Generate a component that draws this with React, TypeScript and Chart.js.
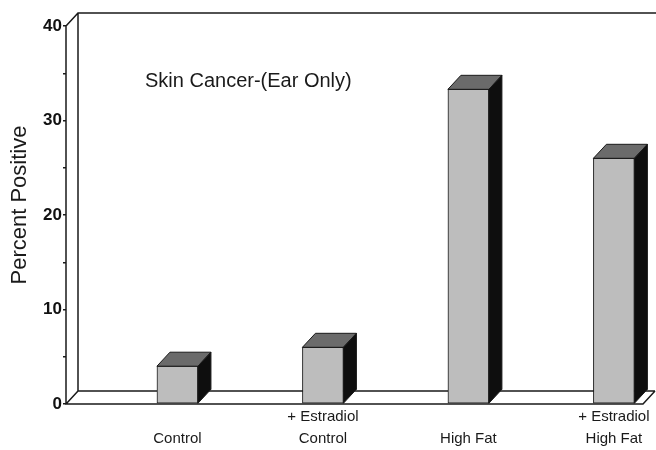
import React, { useEffect, useRef } from 'react';
import { Chart, registerables } from 'chart.js';

Chart.register(...registerables);

// ---- data ----
const categories = ['Control', '+ Estradiol Control', 'High Fat', '+ Estradiol High Fat'];
const tickLabelLines = [
  ['', 'Control'],
  ['+ Estradiol', 'Control'],
  ['', 'High Fat'],
  ['+ Estradiol', 'High Fat'],
];
const percentPositive = [4, 6, 33.3, 26];
const yMin = 0;
const yMax = 40;
const yStep = 5;
const yLabelStep = 10;
const chartTitle = 'Skin Cancer-(Ear Only)';
const yTitle = 'Percent Positive';

const FONT = '"Liberation Sans", Arial, sans-serif';
const FRAME_DX = 12;
const FRAME_DY = -13;
const BAR_DX = 13;
const BAR_DY = -14;

const frame3d = {
  id: 'frame3d',
  beforeDatasetsDraw(chart: any) {
    const { ctx } = chart;
    const x = chart.scales.x;
    const y = chart.scales.y;
    const l = x.left;
    const r = x.right;
    const b = y.getPixelForValue(yMin);
    const t = y.getPixelForValue(yMax);
    ctx.save();
    ctx.strokeStyle = '#1a1a1a';
    ctx.lineWidth = 1.5;
    ctx.beginPath();
    // front axis + front floor edge
    ctx.moveTo(l, t);
    ctx.lineTo(l, b);
    ctx.lineTo(r, b);
    ctx.lineTo(r + FRAME_DX, b + FRAME_DY);
    // top diagonal + back top edge
    ctx.moveTo(l, t);
    ctx.lineTo(l + FRAME_DX, t + FRAME_DY);
    ctx.lineTo(chart.width, t + FRAME_DY);
    // back wall left edge + back floor edge
    ctx.moveTo(l + FRAME_DX, t + FRAME_DY);
    ctx.lineTo(l + FRAME_DX, b + FRAME_DY);
    ctx.lineTo(r + FRAME_DX, b + FRAME_DY);
    // bottom-left diagonal
    ctx.moveTo(l, b);
    ctx.lineTo(l + FRAME_DX, b + FRAME_DY);
    ctx.stroke();
    ctx.restore();
  },
  afterDatasetsDraw(chart: any) {
    const { ctx } = chart;
    const meta = chart.getDatasetMeta(0);
    ctx.save();
    ctx.strokeStyle = '#1a1a1a';
    ctx.lineWidth = 1;
    ctx.lineJoin = 'round';
    meta.data.forEach((el: any) => {
      const { x, y, base, width } = el.getProps(['x', 'y', 'base', 'width'], true);
      const xl = x - width / 2;
      const xr = x + width / 2;
      // top face
      ctx.beginPath();
      ctx.moveTo(xl, y);
      ctx.lineTo(xl + BAR_DX, y + BAR_DY);
      ctx.lineTo(xr + BAR_DX, y + BAR_DY);
      ctx.lineTo(xr, y);
      ctx.closePath();
      ctx.fillStyle = '#6b6b6b';
      ctx.fill();
      ctx.stroke();
      // side face
      ctx.beginPath();
      ctx.moveTo(xr, y);
      ctx.lineTo(xr + BAR_DX, y + BAR_DY);
      ctx.lineTo(xr + BAR_DX, base + BAR_DY);
      ctx.lineTo(xr, base);
      ctx.closePath();
      ctx.fillStyle = '#0e0e0e';
      ctx.fill();
      ctx.stroke();
    });
    ctx.restore();
  },
  afterDraw(chart: any) {
    const { ctx, chartArea } = chart;
    ctx.save();
    ctx.fillStyle = '#1a1a1a';
    ctx.font = `20px ${FONT}`;
    ctx.textAlign = 'left';
    ctx.textBaseline = 'alphabetic';
    ctx.fillText(chartTitle, chartArea.left + 79, chartArea.top + 61);
    ctx.translate(20, chartArea.top + 179);
    ctx.rotate(-Math.PI / 2);
    ctx.font = `22px ${FONT}`;
    ctx.textAlign = 'center';
    ctx.textBaseline = 'middle';
    ctx.fillText(yTitle, 0, 0);
    ctx.restore();
  },
};

export default function App() {
  const canvasRef = useRef<HTMLCanvasElement | null>(null);

  useEffect(() => {
    if (!canvasRef.current) return;
    const chart = new Chart(canvasRef.current, {
      type: 'bar',
      data: {
        labels: categories,
        datasets: [
          {
            label: 'Percent Positive',
            data: percentPositive.map((v, i) => ({ x: i + 1, y: v })),
            backgroundColor: '#bdbdbd',
            borderColor: '#1a1a1a',
            borderWidth: 1,
            borderSkipped: false,
            barThickness: 41,
          } as any,
        ],
      },
      options: {
        animation: false,
        responsive: false,
        maintainAspectRatio: false,
        layout: { padding: { left: 0, right: 13, top: 26, bottom: 0 } },
        plugins: {
          legend: { display: false },
          title: { display: false },
          tooltip: { enabled: false },
        },
        scales: {
          x: {
            type: 'linear',
            offset: false,
            min: 0.234,
            max: 4.2,
            grid: { display: false, drawTicks: false, tickLength: 0 },
            border: { display: false },
            afterBuildTicks: (axis: any) => {
              axis.ticks = categories.map((_, i) => ({ value: i + 1 }));
            },
            afterFit: (axis: any) => {
              axis.height = 46;
            },
            ticks: {
              autoSkip: false,
              maxRotation: 0,
              padding: 2,
              color: '#1a1a1a',
              font: { family: FONT, size: 15, lineHeight: 1.47 },
              callback: (value: any) => tickLabelLines[Math.round(value) - 1] ?? '',
            },
          },
          y: {
            min: yMin,
            max: yMax,
            grid: {
              display: true,
              drawOnChartArea: false,
              drawTicks: true,
              tickLength: 3,
              color: '#1a1a1a',
              lineWidth: 1.5,
            },
            border: { display: false },
            afterFit: (axis: any) => {
              axis.width = 66;
            },
            ticks: {
              stepSize: yStep,
              padding: 1,
              color: '#111',
              font: { family: FONT, size: 17, weight: 'bold' },
              callback: (value: any) => (Number(value) % yLabelStep === 0 ? String(value) : ''),
            },
          },
        },
      },
      plugins: [frame3d],
    } as any);
    return () => chart.destroy();
  }, []);

  return (
    <div style={{ position: 'fixed', left: 0, top: 0, width: 656, height: 450, background: '#fff' }}>
      <canvas ref={canvasRef} width={656} height={450} style={{ display: 'block', width: 656, height: 450 }} />
    </div>
  );
}
